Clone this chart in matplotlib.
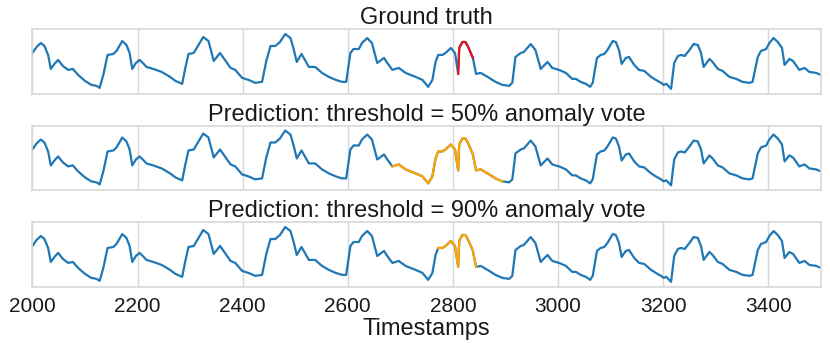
import matplotlib
matplotlib.use("Agg")
import matplotlib.pyplot as plt
import numpy as np

# series (timestamp, value in arbitrary units)
timestamps = [
    2000, 2008, 2016, 2023, 2030, 2035, 2042, 2049, 2058, 2068, 2077, 2087,
    2100, 2112, 2122, 2128, 2135, 2143, 2154, 2160, 2171, 2179, 2185, 2190,
    2197, 2204, 2210, 2217, 2230, 2246, 2262, 2272, 2285, 2291, 2297, 2307,
    2316, 2325, 2335, 2345, 2357, 2365, 2377, 2386, 2399, 2411, 2424, 2437,
    2445, 2453, 2462, 2471, 2481, 2491, 2497, 2503, 2512, 2526, 2538, 2551,
    2564, 2577, 2589, 2597, 2605, 2611, 2621, 2627, 2637, 2646, 2656, 2669,
    2675, 2685, 2697, 2710, 2729, 2742, 2753, 2761, 2767, 2772, 2780, 2786,
    2796, 2804, 2810, 2812, 2818, 2824, 2830, 2838, 2844, 2853, 2866, 2881,
    2894, 2907, 2913, 2919, 2929, 2935, 2948, 2957, 2967, 2980, 2989, 3002,
    3015, 3027, 3034, 3043, 3053, 3061, 3066, 3074, 3081, 3088, 3094, 3104,
    3110, 3116, 3121, 3129, 3135, 3145, 3154, 3164, 3177, 3186, 3196, 3201,
    3206, 3215, 3221, 3228, 3234, 3241, 3250, 3258, 3266, 3272, 3277, 3288,
    3294, 3304, 3313, 3326, 3339, 3351, 3364, 3370, 3380, 3386, 3396, 3402,
    3410, 3418, 3426, 3431, 3440, 3447, 3459, 3469, 3478, 3491, 3500,
]
values = [
    41, 47, 51, 48, 39, 25, 30, 34, 28, 24, 25, 19,
    13, 9, 8, 6, 19, 39, 40, 43, 53, 49, 41, 25,
    31, 34, 31, 27, 25, 22, 17, 13, 10, 26, 40, 41,
    49, 57, 53, 33, 41, 35, 26, 24, 16, 14, 11, 12,
    33, 48, 48, 52, 60, 56, 45, 32, 40, 27, 27, 21,
    17, 14, 12, 12, 41, 45, 45, 51, 56, 51, 31, 36,
    31, 24, 26, 21, 17, 14, 7, 14, 32, 39, 39, 41,
    46, 41, 20, 46, 52, 52, 46, 36, 20, 21, 17, 12,
    9, 8, 11, 37, 41, 42, 50, 44, 25, 32, 26, 24,
    21, 15, 15, 12, 10, 7, 11, 36, 39, 40, 44, 53,
    52, 44, 30, 36, 37, 29, 24, 23, 17, 14, 11, 9,
    10, 5, 31, 38, 39, 38, 44, 50, 49, 41, 27, 35,
    32, 25, 23, 17, 15, 12, 11, 12, 37, 43, 45, 51,
    56, 52, 46, 29, 35, 33, 24, 26, 22, 21, 19,
]

# anomaly windows (start, end)
ground_truth = (2810, 2838)
pred_50 = (2685, 2894)
pred_90 = (2772, 2844)

titles = [
    "Ground truth",
    "Prediction: threshold = 50% anomaly vote",
    "Prediction: threshold = 90% anomaly vote",
]
windows = [ground_truth, pred_50, pred_90]
highlight = ["#e8141b", "orange", "orange"]
xticks = [2000, 2200, 2400, 2600, 2800, 3000, 3200, 3400]

plt.rcParams["font.family"] = ["Liberation Sans", "DejaVu Sans"]
t = np.asarray(timestamps, dtype=float)
v = np.asarray(values, dtype=float)

fig, axes = plt.subplots(3, 1, figsize=(8.3, 3.46), dpi=100, sharex=True)
fig.subplots_adjust(left=0.039, right=0.989, top=0.916, bottom=0.171, hspace=0.49)

for ax, title, (start, end), color in zip(axes, titles, windows, highlight):
    ax.plot(t, v, color="#1f77b4", linewidth=1.6)
    mask = (t >= start) & (t <= end)
    ax.plot(t[mask], v[mask], color=color, linewidth=1.6)
    ax.set_title(title, fontsize=17, color="#1a1a1a", pad=3)
    ax.set_xlim(2000, 3500)
    ax.set_ylim(0, 65)
    ax.set_yticks([])
    ax.set_xticks(xticks)
    ax.grid(axis="x", color="#d6d6d6", linewidth=1.0)
    ax.set_axisbelow(True)
    for spine in ax.spines.values():
        spine.set_color("#d9d9d9")
        spine.set_linewidth(1.25)
    ax.tick_params(axis="x", length=0, labelsize=15, colors="#1a1a1a", pad=7)

axes[-1].set_xlabel("Timestamps", fontsize=17, color="#1a1a1a", labelpad=2)

fig.savefig("out.png", dpi=100)
